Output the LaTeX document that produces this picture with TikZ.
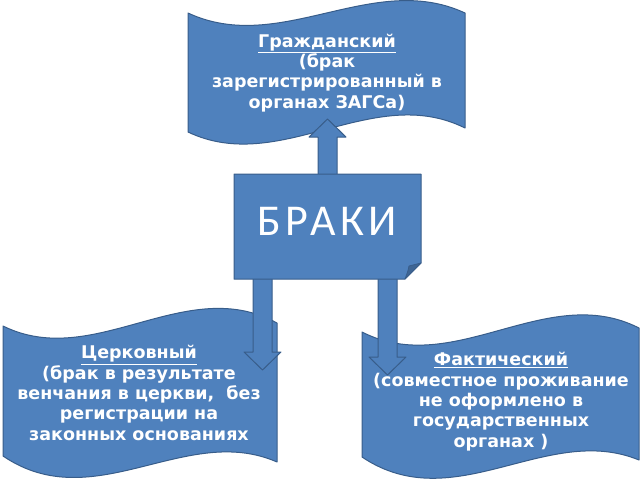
\documentclass[tikz,border=0pt]{standalone}
\usepackage{fontspec}
\newfontfamily\dv{DejaVu Sans}
\newfontfamily\carl{Carlito}[LetterSpace=10]
\definecolor{fillb}{HTML}{4F81BD}
\definecolor{lineb}{HTML}{385D8A}
\definecolor{foldb}{HTML}{3E6594}
\begin{document}
\begin{tikzpicture}[x=1pt,y=-1pt,
  shapestyle/.style={fill=fillb,draw=lineb,line width=1pt,line join=round},
  bannertext/.style={text=white,font=\dv\bfseries\fontsize{17.5}{20.3}\selectfont,align=center,inner sep=0pt,anchor=base}]
\useasboundingbox (0,0) rectangle (640,480);
% top banner
\draw[shapestyle] (188,13) .. controls (280.3,56) and (372.7,-30) .. (465,13)
  -- (465,128) .. controls (372.7,82) and (280.3,176) .. (188,132) -- cycle;
\node[bannertext] (civil) at (327,108) {\underline{Гражданский}\\(брак\\зарегистрированный в\\органах ЗАГСа)};
% left banner
\draw[shapestyle] (3,326) .. controls (94.3,371) and (185.7,273) .. (277,323)
  -- (277,462) .. controls (185.7,422) and (94.3,518) .. (3,456) -- cycle;
\node[bannertext] (church) at (139,440) {\underline{Церковный}\\(брак в результате\\венчания в церкви,~ без\\регистрации на\\законных основаниях};
% right banner
\draw[shapestyle] (362,332) .. controls (454.3,379) and (546.7,281) .. (639,328)
  -- (639,460) .. controls (546.7,422) and (454.3,519) .. (362,457) -- cycle;
\node[bannertext] (fact) at (501,447) {\underline{Фактический}\\(совместное проживание\\не оформлено в\\государственных\\органах )};
% arrows
\draw[shapestyle] (318,176) -- (318,137) -- (309,137) -- (327.5,119) -- (346,137) -- (337,137) -- (337,176) -- cycle;
\draw[shapestyle] (253,277) -- (253,352) -- (244,352) -- (262.5,370) -- (281,352) -- (272,352) -- (272,277) -- cycle;
\draw[shapestyle] (378,277) -- (378,357) -- (369,357) -- (387.5,375) -- (406,357) -- (397,357) -- (397,277) -- cycle;
% central box
\draw[shapestyle] (234,174) -- (421,174) -- (421,263) -- (405,279) -- (234,279) -- cycle;
\filldraw[fill=foldb,draw=lineb,line width=0.8pt,line join=round] (405,279) -- (421,263) .. controls (415,265) .. (409,266) .. controls (408,271) .. (405,279) -- cycle;
\node[text=white,font=\carl\fontsize{44}{44}\selectfont,inner sep=0pt,anchor=base] (braki) at (327.5,235) {БРАКИ};
\end{tikzpicture}
\end{document}
